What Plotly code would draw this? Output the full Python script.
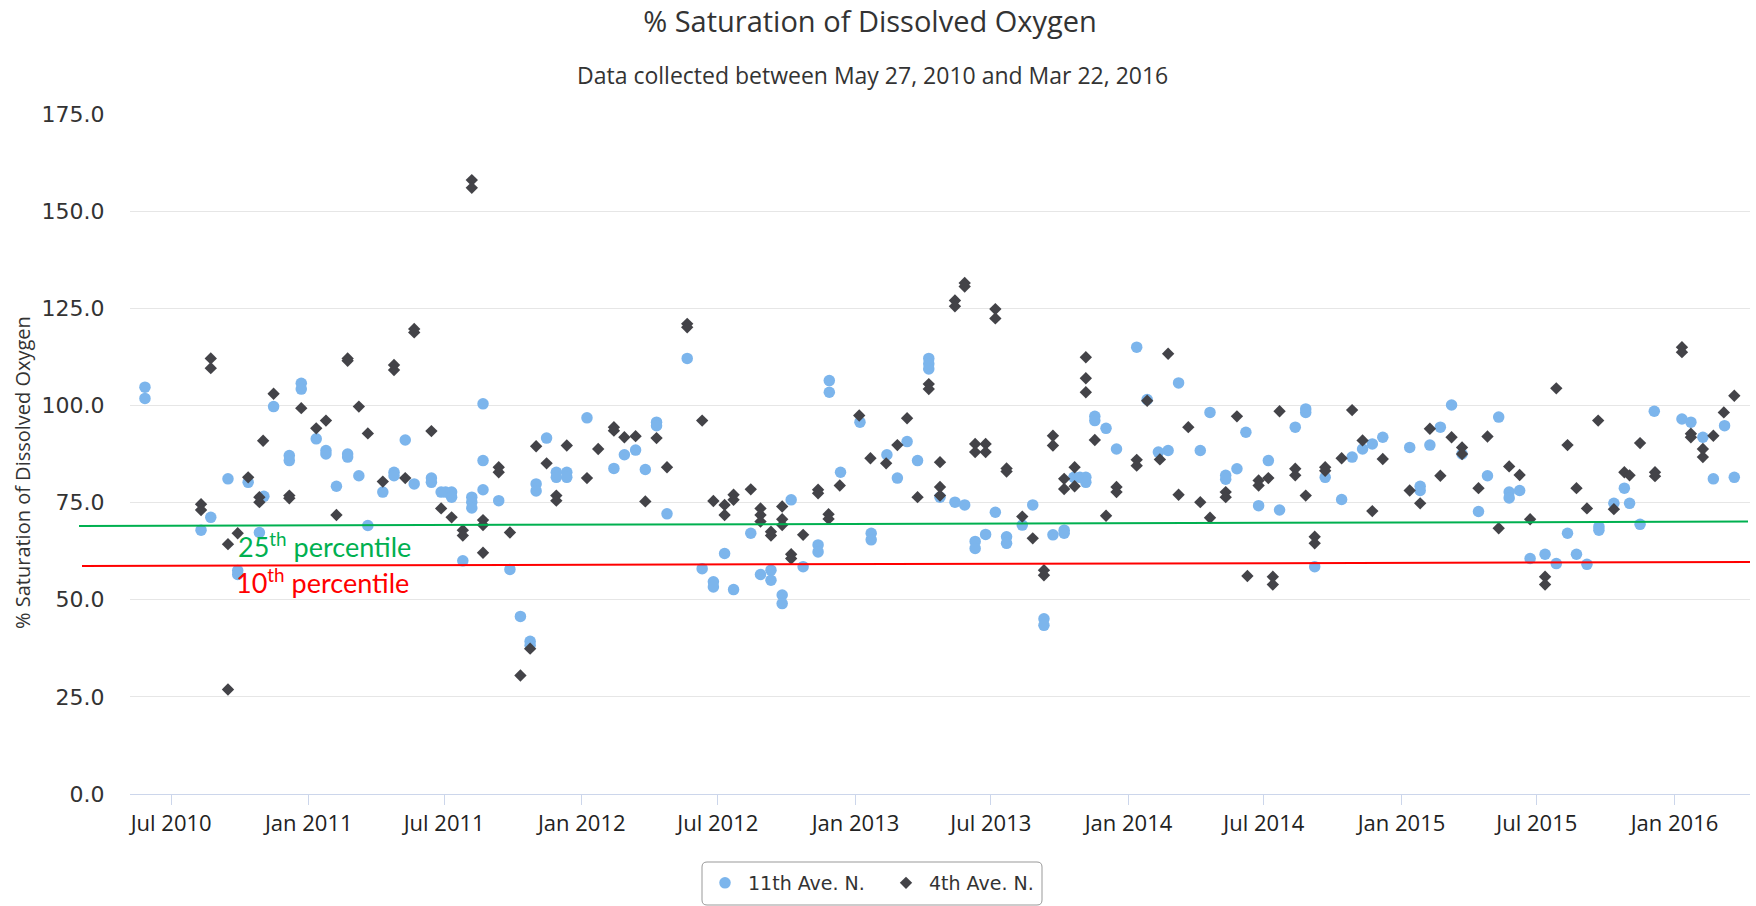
import plotly.graph_objects as go

TITLE = "% Saturation of Dissolved Oxygen"
SUBTITLE = "Data collected between May 27, 2010 and Mar 22, 2016"
Y_TITLE = "% Saturation of Dissolved Oxygen"
SERIES_NAMES = ["11th Ave. N.", "4th Ave. N."]

# 11th Ave. N. (date, % saturation)
AVE11 = [
    ("2010-05-27", 104.7), ("2010-05-27", 101.8), ("2010-08-10", 67.9), ("2010-08-23", 71.2),
    ("2010-09-15", 81.1), ("2010-09-28", 57.5), ("2010-09-28", 56.5), ("2010-10-12", 80.2),
    ("2010-10-27", 67.3), ("2010-11-02", 76.6), ("2010-11-15", 99.7), ("2010-12-06", 87.1),
    ("2010-12-06", 85.8), ("2010-12-22", 105.7), ("2010-12-22", 104.2), ("2011-01-11", 91.4),
    ("2011-01-24", 88.4), ("2011-01-24", 87.5), ("2011-02-07", 79.2), ("2011-02-22", 87.5),
    ("2011-02-22", 86.7), ("2011-03-09", 81.9), ("2011-03-21", 69.1), ("2011-04-10", 77.7),
    ("2011-04-25", 82.8), ("2011-04-25", 81.9), ("2011-05-10", 91.1), ("2011-05-22", 79.8),
    ("2011-06-14", 81.3), ("2011-06-14", 80.2), ("2011-06-27", 77.7), ("2011-07-03", 77.7),
    ("2011-07-11", 77.7), ("2011-07-11", 76.4), ("2011-07-26", 60.0), ("2011-08-07", 76.4),
    ("2011-08-07", 75.1), ("2011-08-07", 73.6), ("2011-08-22", 100.4), ("2011-08-22", 85.8),
    ("2011-08-22", 78.3), ("2011-09-12", 75.5), ("2011-09-27", 57.8), ("2011-10-11", 45.7),
    ("2011-10-24", 39.3), ("2011-10-24", 38.3), ("2011-11-01", 79.8), ("2011-11-01", 78.0),
    ("2011-11-15", 91.6), ("2011-11-28", 82.8), ("2011-11-28", 81.5), ("2011-12-12", 82.8),
    ("2011-12-12", 81.5), ("2012-01-08", 96.8), ("2012-02-13", 83.8), ("2012-02-27", 87.3),
    ("2012-03-13", 88.5), ("2012-03-26", 83.5), ("2012-04-10", 95.7), ("2012-04-10", 94.8),
    ("2012-04-24", 72.1), ("2012-05-21", 112.1), ("2012-06-10", 58.0), ("2012-06-25", 54.6),
    ("2012-06-25", 53.3), ("2012-07-10", 61.9), ("2012-07-22", 52.6), ("2012-08-14", 67.1),
    ("2012-08-27", 56.5), ("2012-09-10", 57.6), ("2012-09-10", 55.0), ("2012-09-25", 51.2),
    ("2012-09-25", 49.0), ("2012-10-07", 75.7), ("2012-10-23", 58.5), ("2012-11-12", 64.1),
    ("2012-11-12", 62.3), ("2012-11-27", 106.4), ("2012-11-27", 103.4), ("2012-12-12", 82.8),
    ("2013-01-07", 95.7), ("2013-01-22", 67.1), ("2013-01-22", 65.4), ("2013-02-12", 87.3),
    ("2013-02-26", 81.3), ("2013-03-11", 90.7), ("2013-03-25", 85.8), ("2013-04-09", 112.1),
    ("2013-04-09", 110.7), ("2013-04-09", 109.4), ("2013-04-24", 76.4), ("2013-05-14", 75.1),
    ("2013-05-27", 74.4), ("2013-06-10", 65.0), ("2013-06-10", 63.2), ("2013-06-24", 66.8),
    ("2013-07-07", 72.5), ("2013-07-22", 66.2), ("2013-07-22", 64.5), ("2013-08-12", 69.2),
    ("2013-08-26", 74.4), ("2013-09-10", 45.1), ("2013-09-10", 43.4), ("2013-09-22", 66.7),
    ("2013-10-07", 67.9), ("2013-10-07", 67.1), ("2013-10-20", 81.5), ("2013-10-28", 81.5),
    ("2013-11-05", 81.5), ("2013-11-05", 80.2), ("2013-11-17", 97.2), ("2013-11-17", 96.1),
    ("2013-12-02", 94.1), ("2013-12-16", 88.8), ("2014-01-12", 115.0), ("2014-01-26", 101.5),
    ("2014-02-10", 88.0), ("2014-02-23", 88.4), ("2014-03-09", 105.8), ("2014-04-07", 88.4),
    ("2014-04-20", 98.2), ("2014-05-11", 82.0), ("2014-05-11", 81.0), ("2014-05-26", 83.7),
    ("2014-06-07", 93.1), ("2014-06-24", 74.2), ("2014-07-07", 85.8), ("2014-07-22", 73.1),
    ("2014-08-12", 94.4), ("2014-08-26", 99.1), ("2014-08-26", 98.2), ("2014-09-07", 58.5),
    ("2014-09-21", 81.5), ("2014-10-13", 75.8), ("2014-10-27", 86.7), ("2014-11-10", 88.8),
    ("2014-11-23", 90.1), ("2014-12-07", 91.8), ("2015-01-12", 89.2), ("2015-01-26", 79.2),
    ("2015-01-26", 78.1), ("2015-02-08", 89.8), ("2015-02-22", 94.4), ("2015-03-09", 100.1),
    ("2015-03-23", 87.5), ("2015-04-14", 72.7), ("2015-04-26", 81.9), ("2015-05-11", 97.0),
    ("2015-05-25", 77.7), ("2015-05-25", 76.2), ("2015-06-08", 78.1), ("2015-06-22", 60.6),
    ("2015-07-12", 61.7), ("2015-07-27", 59.3), ("2015-08-11", 67.1), ("2015-08-23", 61.7),
    ("2015-09-06", 59.1), ("2015-09-22", 68.8), ("2015-09-22", 67.9), ("2015-10-12", 74.8),
    ("2015-10-26", 78.7), ("2015-11-02", 74.8), ("2015-11-16", 69.4), ("2015-12-05", 98.5),
    ("2016-01-11", 96.5), ("2016-01-23", 95.7), ("2016-02-08", 91.8), ("2016-02-22", 81.1),
    ("2016-03-08", 94.8), ("2016-03-21", 81.5),
]

# 4th Ave. N. (date, % saturation)
AVE4 = [
    ("2010-08-10", 74.6), ("2010-08-10", 73.1), ("2010-08-23", 112.1), ("2010-08-23", 109.6),
    ("2010-09-15", 64.3), ("2010-09-15", 26.9), ("2010-09-28", 67.1), ("2010-10-12", 81.5),
    ("2010-10-27", 76.4), ("2010-10-27", 75.1), ("2010-11-01", 90.9), ("2010-11-15", 103.0),
    ("2010-12-06", 76.8), ("2010-12-06", 76.1), ("2010-12-22", 99.3), ("2011-01-11", 94.1),
    ("2011-01-24", 96.1), ("2011-02-07", 71.8), ("2011-02-22", 112.1), ("2011-02-22", 111.5),
    ("2011-03-09", 99.7), ("2011-03-21", 92.8), ("2011-04-10", 80.4), ("2011-04-25", 110.4),
    ("2011-04-25", 109.1), ("2011-05-10", 81.3), ("2011-05-22", 119.7), ("2011-05-22", 118.8),
    ("2011-06-14", 93.4), ("2011-06-27", 73.5), ("2011-07-11", 71.2), ("2011-07-26", 67.9),
    ("2011-07-26", 66.5), ("2011-08-07", 158.0), ("2011-08-07", 156.0), ("2011-08-22", 70.5),
    ("2011-08-22", 69.2), ("2011-08-22", 62.1), ("2011-09-12", 84.1), ("2011-09-12", 82.8),
    ("2011-09-27", 67.3), ("2011-10-11", 30.5), ("2011-10-24", 37.4), ("2011-11-01", 89.5),
    ("2011-11-15", 85.1), ("2011-11-28", 76.8), ("2011-11-28", 75.5), ("2011-12-12", 89.7),
    ("2012-01-08", 81.3), ("2012-01-23", 88.8), ("2012-02-13", 94.4), ("2012-02-13", 93.5),
    ("2012-02-27", 91.8), ("2012-03-13", 92.1), ("2012-03-26", 75.3), ("2012-04-10", 91.6),
    ("2012-04-24", 84.1), ("2012-05-21", 121.0), ("2012-05-21", 120.1), ("2012-06-10", 96.1),
    ("2012-06-25", 75.4), ("2012-07-10", 74.4), ("2012-07-10", 71.8), ("2012-07-22", 77.0),
    ("2012-07-22", 75.7), ("2012-08-14", 78.4), ("2012-08-27", 73.5), ("2012-08-27", 71.8),
    ("2012-08-27", 70.1), ("2012-09-10", 67.5), ("2012-09-10", 66.5), ("2012-09-25", 74.0),
    ("2012-09-25", 70.7), ("2012-09-25", 69.2), ("2012-10-07", 61.7), ("2012-10-07", 60.6),
    ("2012-10-23", 66.7), ("2012-11-12", 78.3), ("2012-11-12", 77.4), ("2012-11-26", 72.0),
    ("2012-11-26", 70.8), ("2012-12-11", 79.4), ("2013-01-06", 97.4), ("2013-01-21", 86.4),
    ("2013-02-11", 85.1), ("2013-02-26", 89.8), ("2013-03-11", 96.7), ("2013-03-25", 76.4),
    ("2013-04-09", 105.5), ("2013-04-09", 104.2), ("2013-04-24", 85.4), ("2013-04-24", 79.0),
    ("2013-04-24", 76.8), ("2013-05-14", 127.0), ("2013-05-14", 125.5), ("2013-05-27", 131.5),
    ("2013-05-27", 130.6), ("2013-06-10", 90.1), ("2013-06-10", 88.0), ("2013-06-24", 90.1),
    ("2013-06-24", 88.0), ("2013-07-07", 124.8), ("2013-07-07", 122.4), ("2013-07-22", 83.8),
    ("2013-07-22", 83.0), ("2013-08-12", 71.4), ("2013-08-26", 65.8), ("2013-09-10", 57.6),
    ("2013-09-10", 56.3), ("2013-09-22", 92.2), ("2013-09-22", 89.7), ("2013-10-07", 81.1),
    ("2013-10-07", 78.5), ("2013-10-21", 84.1), ("2013-10-21", 79.2), ("2013-11-05", 112.4),
    ("2013-11-05", 107.0), ("2013-11-05", 103.4), ("2013-11-17", 91.1), ("2013-12-02", 71.6),
    ("2013-12-16", 79.0), ("2013-12-16", 77.7), ("2014-01-12", 86.0), ("2014-01-12", 84.5),
    ("2014-01-26", 101.2), ("2014-02-12", 86.1), ("2014-02-23", 113.3), ("2014-03-09", 77.0),
    ("2014-03-22", 94.4), ("2014-04-07", 75.1), ("2014-04-20", 71.1), ("2014-05-11", 77.7),
    ("2014-05-11", 76.4), ("2014-05-26", 97.2), ("2014-06-09", 56.1), ("2014-06-24", 80.7),
    ("2014-06-24", 79.4), ("2014-07-07", 81.3), ("2014-07-13", 55.9), ("2014-07-13", 53.9),
    ("2014-07-22", 98.5), ("2014-08-12", 83.7), ("2014-08-12", 82.0), ("2014-08-26", 76.8),
    ("2014-09-07", 66.2), ("2014-09-07", 64.5), ("2014-09-21", 84.1), ("2014-09-21", 83.2),
    ("2014-10-13", 86.4), ("2014-10-27", 98.8), ("2014-11-10", 91.0), ("2014-11-23", 72.8),
    ("2014-12-07", 86.2), ("2015-01-12", 78.1), ("2015-01-26", 74.8), ("2015-02-08", 94.0),
    ("2015-02-22", 81.9), ("2015-03-09", 91.8), ("2015-03-23", 89.2), ("2015-03-23", 87.5),
    ("2015-04-14", 78.7), ("2015-04-26", 92.0), ("2015-05-11", 68.4), ("2015-05-25", 84.3),
    ("2015-06-08", 82.1), ("2015-06-22", 70.7), ("2015-07-12", 55.9), ("2015-07-12", 53.9),
    ("2015-07-27", 104.4), ("2015-08-11", 89.8), ("2015-08-23", 78.7), ("2015-09-06", 73.5),
    ("2015-09-21", 96.1), ("2015-10-12", 73.3), ("2015-10-26", 82.8), ("2015-11-02", 82.0),
    ("2015-11-16", 90.3), ("2015-12-06", 82.8), ("2015-12-06", 81.8), ("2016-01-11", 115.0),
    ("2016-01-11", 113.7), ("2016-01-23", 92.7), ("2016-01-23", 91.8), ("2016-02-08", 88.8),
    ("2016-02-08", 86.7), ("2016-02-22", 92.2), ("2016-03-07", 98.2), ("2016-03-21", 102.5),
]

X_TICK_VALS = ["2010-07-01", "2011-01-01", "2011-07-01", "2012-01-01", "2012-07-01", "2013-01-01",
               "2013-07-01", "2014-01-01", "2014-07-01", "2015-01-01", "2015-07-01", "2016-01-01"]
X_TICK_TEXT = ["Jul 2010", "Jan 2011", "Jul 2011", "Jan 2012", "Jul 2012", "Jan 2013",
               "Jul 2013", "Jan 2014", "Jul 2014", "Jan 2015", "Jul 2015", "Jan 2016"]
Y_TICK_VALS = [0, 25, 50, 75, 100, 125, 150, 175]

# hand-drawn percentile reference lines (left value, right value)
P25 = [69.0, 70.1]
P10 = [58.7, 59.7]

W, H = 1756, 906
L, R, T, B = 130, 6, 114, 112
PW, PH = W - L - R, H - T - B


def px(x):
    return (x - L) / PW


def py(y):
    return (H - B - y) / PH


fig = go.Figure()
fig.add_trace(go.Scatter(
    x=[d for d, _ in AVE11], y=[v for _, v in AVE11], mode="markers", name=SERIES_NAMES[0],
    marker=dict(symbol="circle", size=11.5, color="#7cb5ec", line=dict(width=0)),
))
fig.add_trace(go.Scatter(
    x=[d for d, _ in AVE4], y=[v for _, v in AVE4], mode="markers", name=SERIES_NAMES[1],
    marker=dict(symbol="diamond", size=9.5, color="#434348", line=dict(width=0)),
))

shapes = [
    dict(type="line", xref="paper", yref="y", x0=px(79), x1=px(1748), y0=P25[0], y1=P25[1],
         line=dict(color="#00b050", width=2)),
    dict(type="line", xref="paper", yref="y", x0=px(82), x1=px(1750), y0=P10[0], y1=P10[1],
         line=dict(color="#ff0000", width=2)),
]
# rounded legend box
x0, x1, y0, y1 = px(702), px(1042), py(905), py(862)
rx, ry = 5 / PW, 5 / PH
path = (f"M {x0+rx},{y1} L {x1-rx},{y1} Q {x1},{y1} {x1},{y1-ry} L {x1},{y0+ry} "
        f"Q {x1},{y0} {x1-rx},{y0} L {x0+rx},{y0} Q {x0},{y0} {x0},{y0+ry} "
        f"L {x0},{y1-ry} Q {x0},{y1} {x0+rx},{y1} Z")
shapes.append(dict(type="path", xref="paper", yref="paper", path=path,
                   line=dict(color="#999999", width=1), fillcolor="rgba(0,0,0,0)"))

annotations = [
    dict(text=SUBTITLE, xref="paper", yref="paper", x=px(872), y=py(75), xanchor="center",
         yanchor="middle", showarrow=False, font=dict(family="Open Sans", size=23, color="#333333")),
    dict(text=Y_TITLE, xref="paper", yref="paper", x=px(22), y=py(473), xanchor="center",
         yanchor="middle", textangle=-90, showarrow=False,
         font=dict(family="Open Sans", size=20, color="#333333")),
    dict(text="25<sup>th</sup> percentile", xref="paper", yref="paper", x=px(236), y=py(545),
         xanchor="left", yanchor="middle", showarrow=False,
         font=dict(family="Lato", size=27, color="#00b050")),
    dict(text="10<sup>th</sup> percentile", xref="paper", yref="paper", x=px(234), y=py(581),
         xanchor="left", yanchor="middle", showarrow=False,
         font=dict(family="Lato", size=27, color="#ff0000")),
]

fig.update_layout(
    width=W, height=H,
    margin=dict(l=L, r=R, t=T, b=B, autoexpand=False),
    paper_bgcolor="white", plot_bgcolor="white",
    title=dict(text=TITLE, xref="container", yref="container", x=870 / W, y=1 - 22 / H,
               xanchor="center", yanchor="middle",
               font=dict(family="Open Sans", size=29, color="#333333")),
    xaxis=dict(type="date", range=["2010-05-07", "2016-04-11"], tickvals=X_TICK_VALS,
               ticktext=X_TICK_TEXT, ticks="outside", ticklen=10, tickcolor="#ccd6eb",
               showline=True, linecolor="#ccd6eb", linewidth=1, showgrid=False, zeroline=False,
               tickfont=dict(family="Open Sans", size=22, color="#222222")),
    yaxis=dict(range=[0, 175], tickvals=Y_TICK_VALS, tickformat=".1f", showgrid=True,
               gridcolor="#e6e6e6", gridwidth=1, zeroline=False, ticks="outside", ticklen=20,
               tickcolor="rgba(0,0,0,0)",
               tickfont=dict(family="DejaVu Sans", size=22, color="#333333")),
    showlegend=True,
    legend=dict(orientation="h", xref="container", yref="container", x=883 / W, y=1 - 883 / H,
                xanchor="center", yanchor="middle", bgcolor="rgba(0,0,0,0)", borderwidth=0,
                itemwidth=36, entrywidth=130, entrywidthmode="pixels",
                font=dict(family="DejaVu Sans", size=19, color="#333333")),
    shapes=shapes,
    annotations=annotations,
)

fig.write_html("out.html", config={"displayModeBar": False},
               post_script="document.body.style.margin='0px';")
